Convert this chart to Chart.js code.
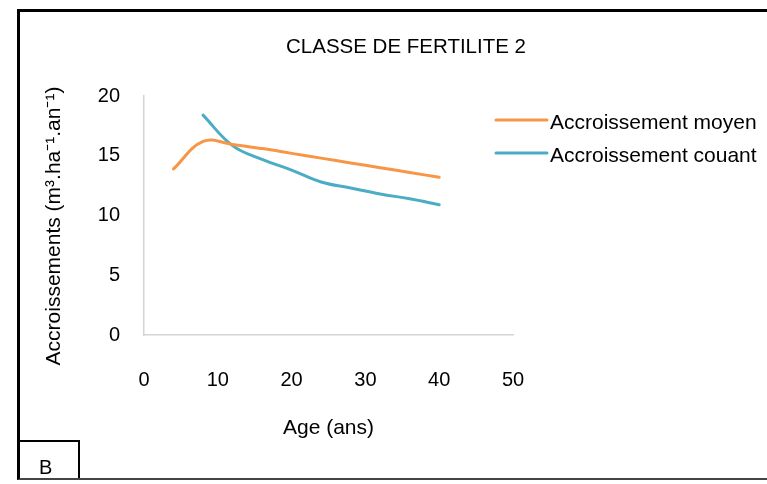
<!DOCTYPE html>
<html>
<head>
<meta charset="utf-8">
<script src="https://cdn.jsdelivr.net/npm/chart.js@4.4.1/dist/chart.umd.min.js"></script>
<style>
  html, body { margin: 0; padding: 0; background: #fff; }
  #wrap { position: relative; width: 767px; height: 484px; overflow: hidden; }
  #c { position: absolute; left: 0; top: 0; }
  .frame { position: absolute; left: 17px; top: 9px; width: 760px; height: 466px;
           border-top: 3px solid #000; border-left: 3px solid #000; border-bottom: 2px solid #444; }
  .tag { position: absolute; left: 18px; top: 440px; width: 58px; height: 36px;
         border: 2px solid #000; border-bottom: none; overflow: hidden;
         font: 20px "Liberation Sans", Arial, sans-serif; color: #000; }
  .tag span { position: absolute; left: 19px; top: 14px; }
</style>
</head>
<body>
<div id="wrap">
  <canvas id="c" width="767" height="484"></canvas>
  <div class="frame"></div>
  <div class="tag"><span>B</span></div>
</div>
<script>
// ── Données ────────────────────────────────────────────────────────────
const AGES_MOYEN = [4, 8, 12, 16, 20, 24, 28, 32, 36, 40];
const ACC_MOYEN = [13.9, 16.2, 15.95, 15.6, 15.2, 14.8, 14.4, 14.0, 13.6, 13.2];

const AGES_COURANT = [8, 12, 16, 20, 24, 28, 32, 36, 40];
const ACC_COURANT = [18.4, 15.85, 14.7, 13.8, 12.8, 12.3, 11.8, 11.4, 10.9];

const SERIES_LABELS = ['Accroissement moyen', 'Accroissement couant'];
const X_TICKS = [0, 10, 20, 30, 40, 50];
const Y_TICKS = [0, 5, 10, 15, 20];

const FONT = '"Liberation Sans", Arial, sans-serif';

const toPoints = (xs, ys) => xs.map((x, i) => ({ x, y: ys[i] }));

// Titre, titre vertical et légende placés comme sur l'original
const decor = {
  id: 'decor',
  afterDraw(chart) {
    const { ctx } = chart;
    ctx.save();
    ctx.fillStyle = '#000';

    // titre
    ctx.font = '20.5px ' + FONT;
    ctx.textAlign = 'center';
    ctx.textBaseline = 'alphabetic';
    ctx.fillText('CLASSE DE FERTILITE 2', 406, 53);

    // titre axe Y
    ctx.save();
    ctx.translate(60, 226);
    ctx.rotate(-Math.PI / 2);
    ctx.font = '21px ' + FONT;
    ctx.fillText('Accroissements (m³.ha⁻¹.an⁻¹)', 0, 0);
    ctx.restore();

    // légende
    ctx.textAlign = 'left';
    ctx.font = '21px ' + FONT;
    const rows = [120, 153];
    chart.data.datasets.forEach((ds, i) => {
      const y = rows[i];
      ctx.beginPath();
      ctx.moveTo(496, y);
      ctx.lineTo(547, y);
      ctx.strokeStyle = ds.borderColor;
      ctx.lineWidth = 3;
      ctx.lineCap = 'round';
      ctx.stroke();
      ctx.fillText(ds.label, 550, y + 8.5);
    });
    ctx.restore();
  },
};

new Chart(document.getElementById('c'), {
  type: 'line',
  plugins: [decor],
  data: {
    datasets: [
      {
        label: SERIES_LABELS[0],
        data: toPoints(AGES_MOYEN, ACC_MOYEN),
        borderColor: '#F79646',
        borderWidth: 3,
        pointRadius: 0,
        tension: 0.4,
        borderCapStyle: 'round',
      },
      {
        label: SERIES_LABELS[1],
        data: toPoints(AGES_COURANT, ACC_COURANT),
        borderColor: '#4BACC6',
        borderWidth: 3,
        pointRadius: 0,
        tension: 0.4,
        borderCapStyle: 'round',
      },
    ],
  },
  options: {
    responsive: false,
    animation: false,
    layout: { padding: { left: 0, top: 96, right: 254, bottom: 0 } },
    plugins: {
      legend: { display: false },
      tooltip: { enabled: false },
      title: { display: false },
    },
    scales: {
      x: {
        type: 'linear',
        min: 0,
        max: 50,
        afterBuildTicks: s => { s.ticks = X_TICKS.map(v => ({ value: v })); },
        afterFit: s => { s.height = 484 - 335; },
        grid: { display: false, drawTicks: false },
        border: { display: true, color: '#d4d4d4', width: 1.5 },
        ticks: { color: '#000', padding: 33, font: { family: FONT, size: 20 } },
        title: {
          display: true,
          text: 'Age (ans)',
          color: '#000',
          font: { family: FONT, size: 21 },
          padding: { top: 0, bottom: 43 },
        },
      },
      y: {
        type: 'linear',
        min: 0,
        max: 20,
        afterBuildTicks: s => { s.ticks = Y_TICKS.map(v => ({ value: v })); },
        afterFit: s => { s.width = 144; },
        grid: { display: false, drawTicks: false },
        border: { display: true, color: '#d4d4d4', width: 1.5 },
        ticks: { color: '#000', padding: 24, font: { family: FONT, size: 20 } },
      },
    },
  },
});
</script>
</body>
</html>
